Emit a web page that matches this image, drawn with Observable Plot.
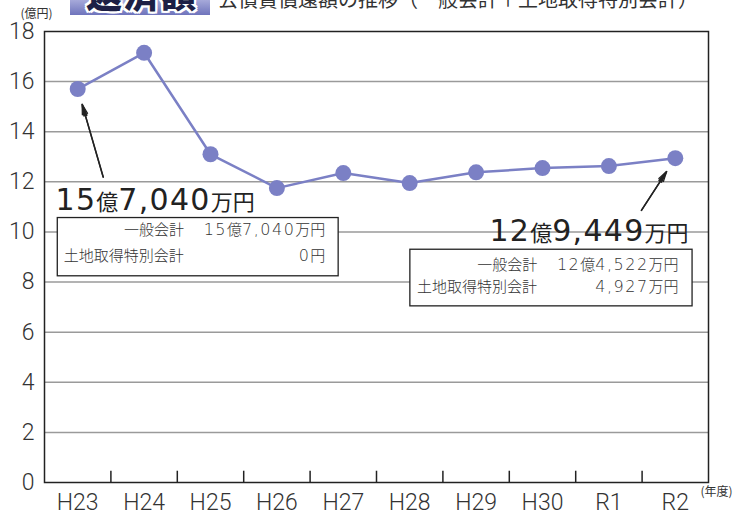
<!DOCTYPE html>
<html><head><meta charset="utf-8">
<script src="https://cdn.jsdelivr.net/npm/d3@7"></script>
<script src="https://cdn.jsdelivr.net/npm/@observablehq/plot@0.6"></script>
<style>
body{margin:0;background:#fff;}
#wrap{position:relative;width:744px;height:515px;overflow:hidden;font-family:"Noto Sans CJK JP","Noto Sans",sans-serif;}
#banner{position:absolute;left:70px;top:-20px;width:140px;height:35px;background:linear-gradient(#e4e5f5,#a9acdb 55%,#6f74bc);}
#banner span{position:absolute;left:16px;top:-6px;font-size:36px;font-weight:900;color:#1d1f45;line-height:1;letter-spacing:1px;
 text-shadow:2px 0 #fff,-2px 0 #fff,0 2px #fff,0 -2px #fff,2px 2px #fff,-2px -2px #fff,2px -2px #fff,-2px 2px #fff;}
#sub{position:absolute;left:218px;top:-11px;font-size:20px;color:#333;line-height:1;white-space:nowrap;}
#chart{position:absolute;left:0;top:0;}
</style></head>
<body>
<div id="wrap">
  <div id="chart"></div>
  <div id="banner"><span>返済額</span></div>
  <div id="sub">公債費償還額の推移（一般会計＋土地取得特別会計）</div>
</div>
<script>
// ---- data ----
const years = ["H23","H24","H25","H26","H27","H28","H29","H30","R1","R2"];
const debt = [15.704, 17.15, 13.1, 11.75, 12.35, 11.95, 12.38, 12.55, 12.63, 12.9449];
const yTicks = [0,2,4,6,8,10,12,14,16,18];
const yUnit = "(億円)";
const xUnit = "(年度)";
const firstTotal = "15億7,040万円";
const lastTotal = "12億9,449万円";
const rowNames = ["一般会計","土地取得特別会計"];
const firstBreakdown = ["15億7,040万円","0円"];
const lastBreakdown = ["12億4,522万円","4,927万円"];

// ---- build ----
const data = years.map((year,i)=>({i, year, v: debt[i]}));
const bounds = d3.range(0.5, years.length - 1, 1);
const blue = "#7b80c5";
const ink = "#222";
const last = years.length - 1;
const tickFont = 'Roboto, "Noto Sans", sans-serif';

// annotation layout (data coordinates)
const arrows = [
  {x1: 0.384, y1: 12.19, x2: 0, y2: debt[0]},
  {x1: 8.49, y1: 10.86, x2: last, y2: debt[last]}
];
const boxes = [
  {x1: -0.30, x2: 3.93, y1: 8.23, y2: 10.555},
  {x1: 5.01, x2: 9.26, y1: 7.03, y2: 9.29}
];
const bigLabels = [
  {t: firstTotal, x: -0.334, y: 10.86, a: "start"},
  {t: lastTotal, x: 9.20, y: 9.63, a: "end"}
];
const boxTexts = [
  {t: rowNames[0], x: 1.60, y: 10.0, a: "end"},
  {t: firstBreakdown[0], x: 3.73, y: 10.0, a: "end"},
  {t: rowNames[1], x: -0.21, y: 8.95, a: "start"},
  {t: firstBreakdown[1], x: 3.73, y: 8.95, a: "end"},
  {t: rowNames[0], x: 6.92, y: 8.62, a: "end"},
  {t: lastBreakdown[0], x: 9.05, y: 8.62, a: "end"},
  {t: rowNames[1], x: 5.11, y: 7.75, a: "start"},
  {t: lastBreakdown[1], x: 9.05, y: 7.75, a: "end"}
];

const chart = Plot.plot({
  width: 744, height: 515,
  marginTop: 31, marginRight: 36, marginBottom: 33, marginLeft: 44,
  style: {fontFamily: '"Noto Sans", "Noto Sans CJK JP", sans-serif', background: "transparent", color: ink},
  x: {type: "linear", domain: [-0.5, years.length - 0.5], label: null},
  y: {domain: [0, 18], label: null},
  marks: [
    Plot.ruleY(yTicks.filter(t => t > 0 && t < 18), {stroke: "#9a9a9a", strokeWidth: 1.5}),
    Plot.ruleX(bounds, {x: d => d, y1: 0, y2: 0.45, stroke: ink, strokeWidth: 1.5}),
    Plot.frame({stroke: ink, strokeWidth: 1.5}),
    Plot.axisY({ticks: yTicks, tickSize: 0, tickPadding: 10, fontSize: 23, fontWeight: 300, fontFamily: tickFont, fill: "#333", label: null}),
    Plot.axisX({ticks: d3.range(years.length), tickFormat: i => years[i], tickSize: 0, tickPadding: 11, fontSize: 23, fontWeight: 300, fontFamily: tickFont, fill: "#333", label: null}),
    Plot.text([yUnit], {frameAnchor: "top-left", dx: -24, dy: -22, fontSize: 12, fill: "#333", fontFamily: '"Noto Sans CJK JP"'}),
    Plot.text([xUnit], {frameAnchor: "bottom-right", dx: -8, dy: 13, textAnchor: "start", fontSize: 12, fill: "#333", fontFamily: '"Noto Sans CJK JP"'}),
    Plot.line(data, {x: "i", y: "v", stroke: blue, strokeWidth: 2.5}),
    Plot.dot(data, {x: "i", y: "v", r: 8, fill: blue}),
    Plot.arrow(arrows, {x1: "x1", y1: "y1", x2: "x2", y2: "y2", insetEnd: 16, stroke: ink, strokeWidth: 1.3, headLength: 12, headAngle: 30}),
    Plot.arrow(arrows, {x1: "x1", y1: "y1", x2: "x2", y2: "y2", insetEnd: 16, stroke: ink, strokeWidth: 1.6, headLength: 11, headAngle: 14}),
    Plot.rect(boxes, {x1: "x1", x2: "x2", y1: "y1", y2: "y2", fill: "white", stroke: ink, strokeWidth: 1.3}),
    Plot.text(bigLabels.filter(d => d.a === "start"), {x: "x", y: "y", text: "t", textAnchor: "start", lineAnchor: "bottom", fill: ink, ariaLabel: () => "big-label"}),
    Plot.text(bigLabels.filter(d => d.a === "end"), {x: "x", y: "y", text: "t", textAnchor: "end", lineAnchor: "bottom", fill: ink, ariaLabel: () => "big-label"}),
    Plot.text(boxTexts.filter(d => d.a === "start"), {x: "x", y: "y", text: "t", textAnchor: "start", fill: "#333", ariaLabel: () => "box-text"}),
    Plot.text(boxTexts.filter(d => d.a === "end"), {x: "x", y: "y", text: "t", textAnchor: "end", fill: "#333", ariaLabel: () => "box-text"})
  ]
});

// mixed-size runs for numbers with Japanese units
function mix(group, numSize, cjkSize, spacing, weight) {
  d3.select(chart).selectAll(`[aria-label="${group}"]`).each(function(){
    const nodes = this.tagName.toLowerCase() === "text" ? [this] : Array.from(this.querySelectorAll("text"));
    nodes.forEach(node => {
      if (node.dataset.done) return;
      node.dataset.done = "1";
      const str = node.textContent;
      const t = d3.select(node);
      t.text(null);
      (str.match(/[0-9,]+|[^0-9,]+/g) || []).forEach(p => {
        const isNum = /[0-9]/.test(p);
        t.append("tspan")
          .attr("font-size", isNum ? numSize : cjkSize)
          .attr("font-family", isNum ? '"DejaVu Sans", sans-serif' : '"Noto Sans CJK JP", sans-serif')
          .attr("font-weight", weight)
          .attr("letter-spacing", isNum ? spacing : 0)
          .text(p);
      });
    });
  });
}
mix("big-label", 30, 22, 1.3, 400);
mix("box-text", 16, 15, 1.5, 300);

document.getElementById("chart").append(chart);
</script>
</body></html>
